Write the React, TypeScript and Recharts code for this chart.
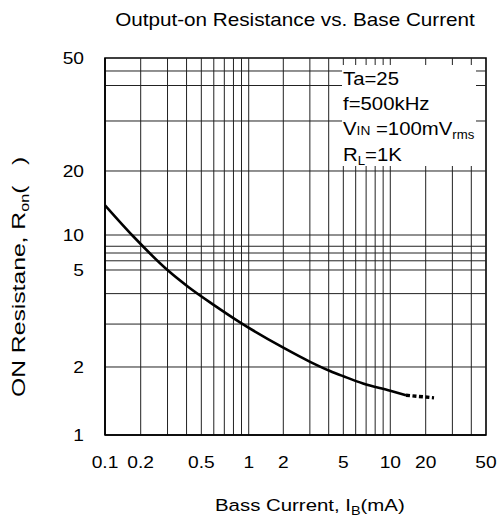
import React from 'react';
import { LineChart, Line, XAxis, YAxis, ReferenceLine, ReferenceArea } from 'recharts';

// ---- ticks & grid values ----
const X_TICKS = [0.1, 0.2, 0.5, 1, 2, 5, 10, 20, 50];
const Y_TICKS = [1, 2, 5, 10, 20, 50];
const X_GRID = [0.2, 0.3, 0.4, 0.5, 0.6, 0.7, 0.8, 0.9, 1, 2, 3, 4, 5, 6, 7, 8, 9, 10, 20, 30, 40];
const Y_GRID = [2, 3, 4, 5, 6, 7, 8, 10, 20, 30, 40, 45];

// ---- series: base current (mA) vs on-resistance (ohm) ----
const BASE_CURRENT_MA = [0.1, 0.172, 0.305, 0.411, 0.602, 0.88, 2, 3.01, 4.08, 5, 6.69, 10, 13.6];
const RON_OHM = [13.8, 9.8, 4.95, 4.26, 3.59, 3.05, 2.4, 2.1, 1.92, 1.82, 1.69, 1.57, 1.5];
const EXT_CURRENT_MA = [13.6, 22.7];
const EXT_RON_OHM = [1.5, 1.46];

// ---- axis calibration of the printed log paper (fraction of axis length at each labelled stop) ----
const X_STOP_FRACTIONS = [0, 0.0937, 0.2528, 0.3772, 0.468, 0.6255, 0.7488, 0.8417, 1];
const Y_STOP_FRACTIONS = [0, 0.1804, 0.4377, 0.5305, 0.7003, 1];

const mainData = BASE_CURRENT_MA.map((c, i) => ({ current: c, ron: RON_OHM[i] }));
const extData = EXT_CURRENT_MA.map((c, i) => ({ current: c, ron: EXT_RON_OHM[i] }));

function stopScale(stopValues: number[], stopFractions: number[]): any {
  const logs = stopValues.map((v) => Math.log10(v));
  let dom: number[] = [stopValues[0], stopValues[stopValues.length - 1]];
  let rng: number[] = [0, 1];
  const toFrac = (v: number) => {
    const lv = Math.log10(v);
    let i = 0;
    while (i < logs.length - 2 && lv > logs[i + 1]) i++;
    const t = (lv - logs[i]) / (logs[i + 1] - logs[i]);
    return stopFractions[i] + t * (stopFractions[i + 1] - stopFractions[i]);
  };
  const fromFrac = (f: number) => {
    let i = 0;
    while (i < stopFractions.length - 2 && f > stopFractions[i + 1]) i++;
    const t = (f - stopFractions[i]) / (stopFractions[i + 1] - stopFractions[i]);
    return Math.pow(10, logs[i] + t * (logs[i + 1] - logs[i]));
  };
  const s: any = (v: any) => {
    const n = Number(v);
    if (!(n > 0)) return NaN;
    return rng[0] + toFrac(n) * (rng[1] - rng[0]);
  };
  s.domain = (d?: any) => {
    if (d === undefined) return dom.slice();
    dom = Array.from(d);
    return s;
  };
  s.range = (r?: any) => {
    if (r === undefined) return rng.slice();
    rng = Array.from(r);
    return s;
  };
  s.copy = () => stopScale(stopValues, stopFractions).domain(dom).range(rng);
  s.invert = (px: number) => fromFrac((px - rng[0]) / (rng[1] - rng[0]));
  s.ticks = () => stopValues.slice();
  s.tickFormat = () => (v: number) => String(v);
  s.clamp = () => s;
  s.nice = () => s;
  return s;
}

const xScale = stopScale(X_TICKS, X_STOP_FRACTIONS);
const yScale = stopScale(Y_TICKS, Y_STOP_FRACTIONS);

const FONT = '"Liberation Sans", Arial, Helvetica, sans-serif';

const XTick = (props: any) => {
  const { x, y, payload } = props;
  return (
    <text
      transform={`translate(${x},${y + 33}) scale(1.2,1)`}
      textAnchor="middle"
      fontFamily={FONT}
      fontSize={16}
      fill="#000"
    >
      {String(payload.value)}
    </text>
  );
};

const YTick = (props: any) => {
  const { x, y, payload } = props;
  return (
    <text
      transform={`translate(${x - 21},${y + 6}) scale(1.2,1)`}
      textAnchor="end"
      fontFamily={FONT}
      fontSize={16}
      fill="#000"
    >
      {String(payload.value)}
    </text>
  );
};

export default function App() {
  return (
    <div style={{ position: 'absolute', left: 0, top: 0, width: 501, height: 519, background: '#fff' }}>
      <LineChart width={501} height={519} margin={{ top: 58, right: 15, bottom: 54, left: 65 }}>
        {X_GRID.map((v) => (
          <ReferenceLine key={'gx' + v} x={v} stroke="#222" strokeWidth={1} />
        ))}
        {Y_GRID.map((v) => (
          <ReferenceLine key={'gy' + v} y={v} stroke="#222" strokeWidth={1} />
        ))}
        <ReferenceArea x1={0.1} x2={50} y1={1} y2={50} fill="none" stroke="#000" strokeWidth={1.6} fillOpacity={0} />
        <XAxis
          type="number"
          dataKey="current"
          scale={xScale}
          domain={[0.1, 50]}
          allowDataOverflow
          ticks={X_TICKS}
          interval={0}
          tickLine={false}
          tickSize={0}
          tickMargin={0}
          height={30}
          axisLine={{ stroke: '#000', strokeWidth: 1.6 }}
          tick={<XTick />}
        />
        <YAxis
          type="number"
          dataKey="ron"
          scale={yScale}
          domain={[1, 50]}
          allowDataOverflow
          ticks={Y_TICKS}
          interval={0}
          tickLine={false}
          tickSize={0}
          tickMargin={0}
          width={40}
          axisLine={{ stroke: '#000', strokeWidth: 1.6 }}
          tick={<YTick />}
        />
        <Line
          data={mainData}
          dataKey="ron"
          type="monotone"
          stroke="#000"
          strokeWidth={2.6}
          dot={false}
          isAnimationActive={false}
        />
        <Line
          data={extData}
          dataKey="ron"
          type="linear"
          stroke="#000"
          strokeWidth={3.4}
          strokeDasharray="4 2.5"
          dot={false}
          isAnimationActive={false}
        />
      </LineChart>
      <svg
        width={501}
        height={519}
        style={{ position: 'absolute', left: 0, top: 0, pointerEvents: 'none' }}
        fontFamily={FONT}
      >
        <text transform="translate(295,25.5) scale(1.15,1)" textAnchor="middle" fontSize={18} fill="#000">
          Output-on Resistance vs. Base Current
        </text>
        <text transform="translate(25,397) rotate(-90) scale(1.3,1)" textAnchor="start" fontSize={19} fill="#000">
          ON Resistane, R<tspan fontSize={12.5} dy={4}>on</tspan>
          <tspan dy={-4}>{'(\u00A0\u00A0\u00A0)'}</tspan>
        </text>
        <text transform="translate(215,510.5) scale(1.2,1)" textAnchor="start" fontSize={17} fill="#000">
          Bass Current, I<tspan fontSize={12} dy={4}>B</tspan>
          <tspan dy={-4}>(mA)</tspan>
        </text>
        <rect x={342} y={65} width={134} height={101} fill="#fff" />
        <g fontSize={18.5} fill="#000">
          <text transform="translate(343,85) scale(1.1,1)">Ta=25</text>
          <text transform="translate(343,110) scale(1.1,1)">f=500kHz</text>
          <text transform="translate(343,135) scale(1.1,1)">
            V<tspan fontSize={12.5}>IN</tspan> =100mV<tspan fontSize={12} dy={4}>rms</tspan>
          </text>
          <text transform="translate(343,161) scale(1.1,1)">
            R<tspan fontSize={12} dy={4}>L</tspan>
            <tspan dy={-4}>=1K</tspan>
          </text>
        </g>
      </svg>
    </div>
  );
}
